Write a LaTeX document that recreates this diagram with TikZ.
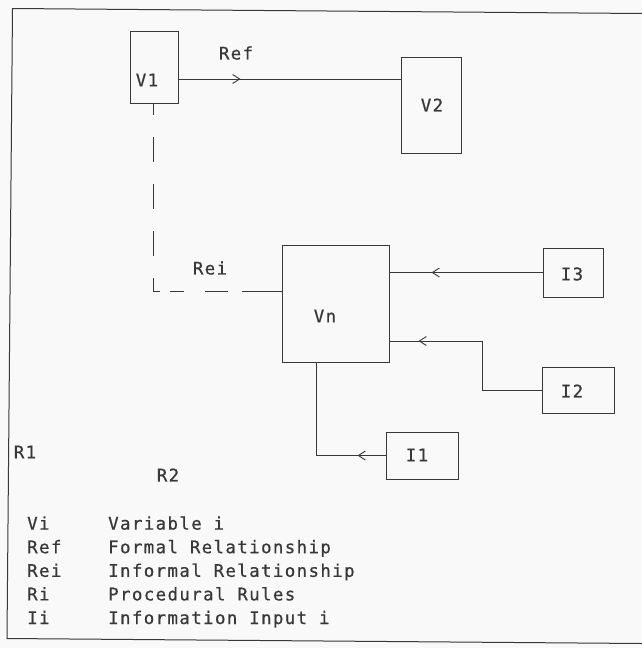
\documentclass[tikz,border=0pt]{standalone}
\usepackage{fontspec}
\newfontfamily\diagfont{DejaVu Sans Mono}[LetterSpace=8,FakeBold=0.6]
\usetikzlibrary{arrows.meta,decorations.markings}
\definecolor{ink}{gray}{0.22}
\definecolor{paper}{gray}{0.975}
\tikzset{
  box/.style={draw=ink, line width=0.9pt, inner sep=0pt, fill=none},
  txt/.style={inner sep=0pt, text=ink, font=\diagfont\fontsize{17.4}{20}\selectfont},
  conn/.style={draw=ink, line width=0.9pt},
  chev/.style={postaction={decorate, decoration={markings,
      mark=at position #1 with {\arrow[ink, line width=0.9pt]{Straight Barb[length=7pt,width=9pt]}}}}},
  vdash/.style={draw=ink, line width=0.9pt, dash pattern=on 25pt off 22pt, dash phase=13pt},
  hdash/.style={draw=ink, line width=0.9pt, dash pattern=on 7pt off 10pt on 14pt off 21pt on 23pt off 14pt on 60pt off 1pt}
}
\begin{document}
\begin{tikzpicture}[x=1pt,y=-1pt]
\useasboundingbox (0,0) rectangle (642,648);
\fill[paper] (0,0) rectangle (642,648);
% frame (slightly skewed scan)
\draw[ink, line width=1pt] (642,13.5) -- (12.5,8.5) -- (7,638.5) -- (642,643.5);

% boxes
\node[box, minimum width=48pt, minimum height=72pt] (V1) at (154,67) {};
\node[txt] (V1t) at (147,80) {V1};
\node[box, minimum width=60pt, minimum height=96pt] (V2) at (431,105) {};
\node[txt] (V2t) at (432,105) {V2};
\node[box, minimum width=107pt, minimum height=117pt] (Vn) at (335.5,303.5) {};
\node[txt] (Vnt) at (325,316) {Vn};
\node[box, minimum width=60pt, minimum height=49pt] (I3) at (573,272.5) {};
\node[txt] (I3t) at (572,274) {I3};
\node[box, minimum width=72pt, minimum height=46pt] (I2) at (578,390) {};
\node[txt] (I2t) at (572,391) {I2};
\node[box, minimum width=72pt, minimum height=47pt] (I1) at (422,455.5) {};
\node[txt] (I1t) at (417,455) {I1};

% connectors
\draw[conn, chev=62pt] ([yshift=-12pt]V1.east) -- ([yshift=-12pt]V1.east -| V2.west);
\node[txt] (Ref) at (236,53) {Ref};

\draw[conn, chev=111pt] (I3.west) -- (I3.west -| Vn.east);

\coordinate (k2) at (482,341);
\draw[conn, chev=172pt] (I2.west) -| (k2) -- (k2 -| Vn.east);

\coordinate (k1) at (316,455.5);
\draw[conn, chev=28pt] (I1.west) -- (k1) -- (k1 |- Vn.south);

\coordinate (kd) at (153,291);
\draw[vdash] (V1.south -| kd) -- (kd);
\draw[hdash] (kd) -- (kd -| Vn.west);
\node[txt] (Rei) at (210,268) {Rei};

% rules
\node[txt] (R1) at (25,452) {R1};
\node[txt] (R2) at (168,475) {R2};

% legend
\foreach \k/\d [count=\i] in {Vi/Variable i, Ref/Formal Relationship, Rei/Informal Relationship, Ri/Procedural Rules, Ii/Information Input i}{
  \node[txt, anchor=base west] (key\i) at (27,{506+23.6*\i}) {\k};
  \node[txt, anchor=base west] (desc\i) at (108,{506+23.6*\i}) {\d};
}
\end{tikzpicture}
\end{document}
